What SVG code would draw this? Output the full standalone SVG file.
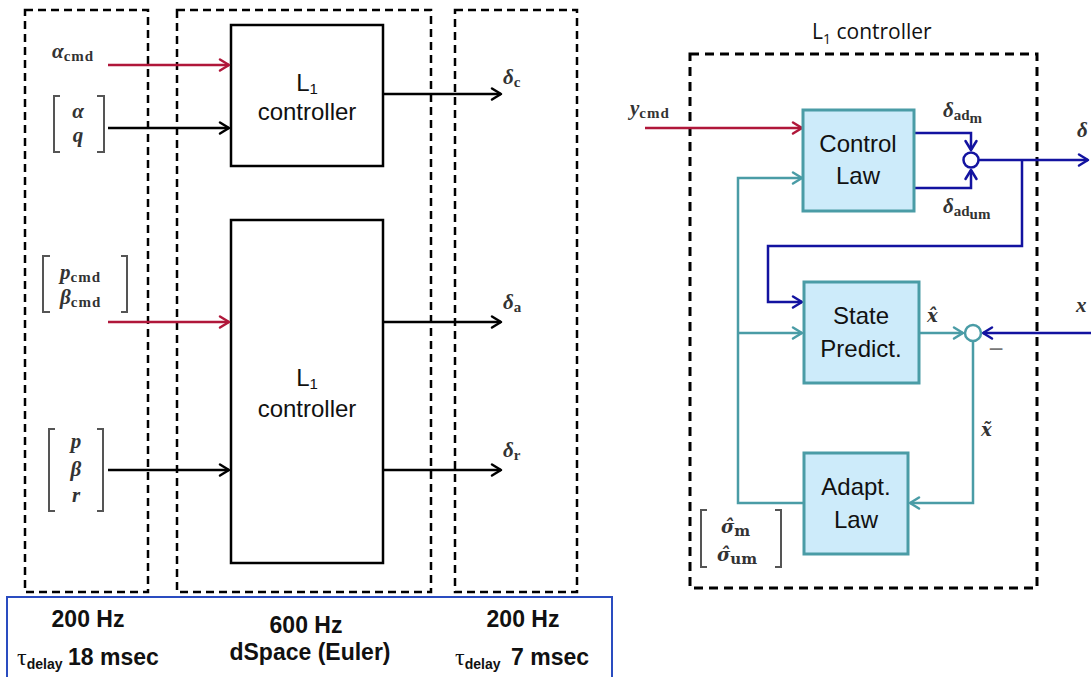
<svg xmlns="http://www.w3.org/2000/svg" width="1091" height="677" viewBox="0 0 1091 677">
  <style>
    .frame { fill: none; stroke: #000; stroke-width: 2.5; stroke-dasharray: 8 5; }
    .ctrl { fill: #fff; stroke: #000; stroke-width: 2.5; }
    .blk { fill: #cdebfa; stroke: #4a9ca6; stroke-width: 3; }
    .lbl { font-family: "Liberation Sans", Arial, sans-serif; font-size: 24px; fill: #111; text-anchor: middle; }
    .rate { font-family: "Liberation Sans", Arial, sans-serif; font-size: 23px; font-weight: bold; fill: #111; }
    .m { font-family: "Liberation Serif", "DejaVu Serif", serif; font-style: italic; font-weight: bold; font-size: 21px; fill: #333; }
    .mh { font-family: "DejaVu Serif", serif; font-style: italic; font-weight: bold; font-size: 18px; fill: #333; }
    .sub { font-style: normal; font-size: 15px; }
    .bk { fill: none; stroke: #555; stroke-width: 2; }
    .w-black { fill: none; stroke: #000; stroke-width: 2.5; }
    .w-red { fill: none; stroke: #b0173a; stroke-width: 2.5; }
    .w-blue { fill: none; stroke: #1313a0; stroke-width: 2.5; }
    .w-teal { fill: none; stroke: #4a9ca6; stroke-width: 2.5; }
  </style>
  <defs>
    <marker id="ah-black" viewBox="-12 -8 14 16" refX="0" refY="0" markerWidth="14" markerHeight="16" markerUnits="userSpaceOnUse" orient="auto">
      <path d="M-9,-5.5 L0,0 L-9,5.5" fill="none" stroke="#000" stroke-width="2.5" stroke-linejoin="round" stroke-linecap="round"/>
    </marker>
    <marker id="ah-red" viewBox="-12 -8 14 16" refX="0" refY="0" markerWidth="14" markerHeight="16" markerUnits="userSpaceOnUse" orient="auto">
      <path d="M-9,-5.5 L0,0 L-9,5.5" fill="none" stroke="#b0173a" stroke-width="2.5" stroke-linejoin="round" stroke-linecap="round"/>
    </marker>
    <marker id="ah-blue" viewBox="-12 -8 14 16" refX="0" refY="0" markerWidth="14" markerHeight="16" markerUnits="userSpaceOnUse" orient="auto">
      <path d="M-9,-5.5 L0,0 L-9,5.5" fill="none" stroke="#1313a0" stroke-width="2.5" stroke-linejoin="round" stroke-linecap="round"/>
    </marker>
    <marker id="ah-teal" viewBox="-12 -8 14 16" refX="0" refY="0" markerWidth="14" markerHeight="16" markerUnits="userSpaceOnUse" orient="auto">
      <path d="M-9,-5.5 L0,0 L-9,5.5" fill="none" stroke="#4a9ca6" stroke-width="2.5" stroke-linejoin="round" stroke-linecap="round"/>
    </marker>
  </defs>

  <rect width="1091" height="677" fill="#fff"/>

  <!-- Timing partitions (left system) -->
  <g id="partitions">
    <rect class="frame" x="25" y="10" width="123" height="582"/>
    <rect class="frame" x="177" y="10" width="254" height="582"/>
    <rect class="frame" x="455" y="10" width="122" height="582"/>
  </g>

  <!-- Rate / delay panel -->
  <g id="rates">
    <rect x="7" y="597" width="605" height="95" fill="none" stroke="#2a4cc0" stroke-width="2"/>
    <text class="rate" x="88" y="627" text-anchor="middle">200 Hz</text>
    <text class="rate" x="17" y="665"><tspan font-weight="normal" font-family="Liberation Serif, serif" font-size="24">τ</tspan><tspan font-size="14" dy="4">delay</tspan><tspan x="68" dy="-4">18 msec</tspan></text>
    <text class="rate" x="306" y="633" text-anchor="middle">600 Hz</text>
    <text class="rate" x="310" y="660" text-anchor="middle">dSpace (Euler)</text>
    <text class="rate" x="523" y="627" text-anchor="middle">200 Hz</text>
    <text class="rate" x="455" y="665"><tspan font-weight="normal" font-family="Liberation Serif, serif" font-size="24">τ</tspan><tspan font-size="14" dy="4">delay</tspan><tspan x="511" dy="-4">7 msec</tspan></text>
  </g>

  <!-- Longitudinal L1 controller -->
  <g id="ctrl-long">
    <rect class="ctrl" x="231" y="25" width="152" height="141"/>
    <text class="lbl" x="307" y="91">L<tspan font-size="15" dy="3">1</tspan></text>
    <text class="lbl" x="307" y="120">controller</text>
  </g>

  <!-- Lateral L1 controller -->
  <g id="ctrl-lat">
    <rect class="ctrl" x="231" y="220" width="152" height="343"/>
    <text class="lbl" x="307" y="386">L<tspan font-size="15" dy="3">1</tspan></text>
    <text class="lbl" x="307" y="417">controller</text>
  </g>

  <!-- Signal labels (left system) -->
  <g id="labels-left">
    <text class="m" x="52" y="58">α<tspan class="sub" dy="3" letter-spacing="1">cmd</tspan></text>
    <path class="bk" d="M60,96 H54 V152 H60 M97,96 H104 V152 H97"/>
    <text class="m" x="78" y="118" text-anchor="middle">α</text>
    <text class="m" x="78" y="142" text-anchor="middle">q</text>

    <path class="bk" d="M50,256 H43 V312 H50 M121,256 H127 V312 H121"/>
    <text class="m" x="60" y="279">p<tspan class="sub" dy="3" letter-spacing="1">cmd</tspan></text>
    <text class="m" x="60" y="304">β<tspan class="sub" dy="3" letter-spacing="1">cmd</tspan></text>

    <path class="bk" d="M55,429 H49 V511 H55 M97,429 H103 V511 H97"/>
    <text class="m" x="76" y="448" text-anchor="middle">p</text>
    <text class="m" x="76" y="476" text-anchor="middle">β</text>
    <text class="m" x="76" y="502" text-anchor="middle">r</text>

    <text class="m" x="503" y="84">δ<tspan class="sub" font-style="italic" dy="3">c</tspan></text>
    <text class="m" x="503" y="309">δ<tspan class="sub" font-style="italic" dy="3">a</tspan></text>
    <text class="m" x="503" y="457">δ<tspan class="sub" font-style="italic" dy="3">r</tspan></text>
  </g>

  <!-- Connectors (left system) -->
  <g id="connectors-left">
    <path class="w-red" d="M108,65 H229" marker-end="url(#ah-red)"/>
    <path class="w-black" d="M108,128 H229" marker-end="url(#ah-black)"/>
    <path class="w-red" d="M108,322 H229" marker-end="url(#ah-red)"/>
    <path class="w-black" d="M108,470 H229" marker-end="url(#ah-black)"/>
    <path class="w-black" d="M383,94 H501" marker-end="url(#ah-black)"/>
    <path class="w-black" d="M383,322 H501" marker-end="url(#ah-black)"/>
    <path class="w-black" d="M383,470 H501" marker-end="url(#ah-black)"/>
  </g>

  <!-- L1 controller internals (right) -->
  <g id="l1-frame">
    <text x="812" y="39" font-family="Open Sans, Liberation Sans, sans-serif" font-size="21" fill="#111">L<tspan font-size="14" dy="5">1</tspan><tspan dy="-5"> controller</tspan></text>
    <rect x="690" y="54" width="347" height="534" fill="none" stroke="#000" stroke-width="3" stroke-dasharray="9 6"/>
  </g>

  <g id="connectors-right">
    <path class="w-red" d="M645,128 H802" marker-end="url(#ah-red)"/>
    <path class="w-blue" d="M914,133 H971 V150" marker-end="url(#ah-blue)"/>
    <path class="w-blue" d="M914,188 H971 V170" marker-end="url(#ah-blue)"/>
    <path class="w-blue" d="M979,160 H1088" marker-end="url(#ah-blue)"/>
    <path class="w-blue" d="M1022,160 V246 H768 V302 H802" marker-end="url(#ah-blue)"/>
    <path class="w-blue" d="M1091,333 H983" marker-end="url(#ah-blue)"/>
    <path class="w-teal" d="M804,503 H738 V178 H802" marker-end="url(#ah-teal)"/>
    <path class="w-teal" d="M738,333 H802" marker-end="url(#ah-teal)"/>
    <path class="w-teal" d="M919,333 H963" marker-end="url(#ah-teal)"/>
    <path class="w-teal" d="M973,341 V503 H910" marker-end="url(#ah-teal)"/>
  </g>

  <g id="sum-control">
    <circle cx="971" cy="160" r="7.5" fill="#fff" stroke="#1313a0" stroke-width="2.5"/>
  </g>
  <g id="sum-error">
    <circle cx="973" cy="333" r="8" fill="#fff" stroke="#4a9ca6" stroke-width="2.5"/>
    <text x="996" y="358" font-family="Liberation Sans, sans-serif" font-size="26" fill="#777" text-anchor="middle">−</text>
  </g>

  <g id="control-law">
    <rect class="blk" x="803" y="110" width="111" height="101"/>
    <text class="lbl" x="858" y="152">Control</text>
    <text class="lbl" x="858" y="184">Law</text>
  </g>

  <g id="state-predict">
    <rect class="blk" x="804" y="282" width="115" height="101"/>
    <text class="lbl" x="861" y="324">State</text>
    <text class="lbl" x="861" y="357">Predict.</text>
  </g>

  <g id="adapt-law">
    <rect class="blk" x="804" y="453" width="104" height="101"/>
    <text class="lbl" x="856" y="495">Adapt.</text>
    <text class="lbl" x="856" y="528">Law</text>
  </g>

  <!-- Signal labels (right) -->
  <g id="labels-right">
    <text class="m" x="630" y="115">y<tspan class="sub" dy="3" letter-spacing="1">cmd</tspan></text>
    <text class="m" x="943" y="117">δ<tspan class="sub" font-size="14" dy="3">ad</tspan><tspan class="sub" font-style="italic" font-size="11" dy="3">m</tspan></text>
    <text class="m" x="943" y="213">δ<tspan class="sub" font-size="14" dy="3">ad</tspan><tspan class="sub" font-style="italic" font-size="11" dy="3">um</tspan></text>
    <text class="m" x="1077" y="137">δ</text>
    <text class="m" x="1076" y="312">x</text>
    <text class="mh" x="927" y="322">x̂</text>
    <text class="mh" x="981" y="436">x̃</text>
    <path class="bk" d="M707,510 H701 V567 H707 M775,510 H781 V567 H775"/>
    <text class="mh" x="721" y="533">σ̂<tspan class="sub" font-size="13" dy="3">m</tspan></text>
    <text class="mh" x="717" y="561">σ̂<tspan class="sub" font-style="italic" font-size="13" dy="3">um</tspan></text>
  </g>
</svg>
